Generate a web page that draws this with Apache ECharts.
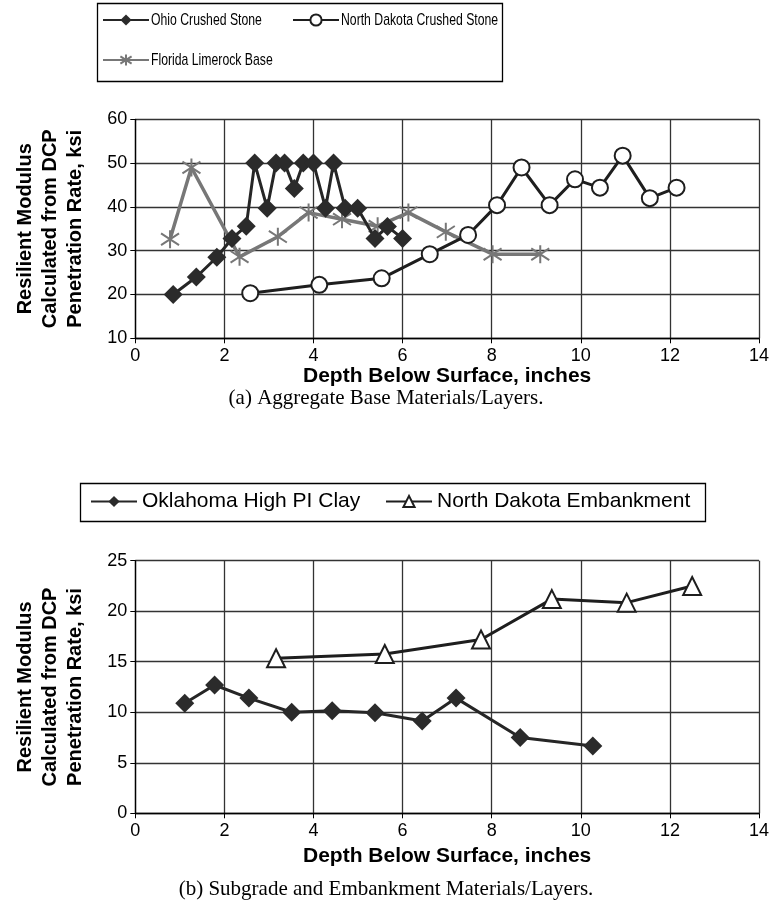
<!DOCTYPE html>
<html><head><meta charset="utf-8">
<script src="https://cdn.jsdelivr.net/npm/echarts@6/dist/echarts.min.js"></script>
<style>html,body{margin:0;padding:0;background:#fff}#c{width:772px;height:916px}</style>
</head><body><div id="c"></div>
<script>
// ---- data (a) Aggregate base ----
const ohioDepth   = [0.85,1.37,1.83,2.17,2.49,2.68,2.96,3.16,3.35,3.57,3.77,4.0,4.27,4.45,4.71,4.99,5.38,5.66,6.0];
const ohioMr      = [20,24,28.5,32.8,35.6,50,39.7,50,50,44.2,50,50,39.7,50,39.7,39.7,32.8,35.5,32.8];
const ndcsDepth   = [2.58,4.13,5.53,6.61,7.47,8.12,8.67,9.3,9.87,10.43,10.94,11.55,12.15];
const ndcsMr      = [20.3,22.2,23.7,29.2,33.6,40.4,49,40.4,46.3,44.4,51.7,42,44.4];
const flDepth     = [0.78,1.26,2.34,3.2,3.89,4.64,5.44,6.13,6.97,8.02,9.09];
const flMr        = [32.6,49,28.6,33.2,38.7,37.2,35.6,38.7,34.3,29.2,29.2];
// ---- data (b) Subgrade / embankment ----
const okDepth     = [1.11,1.78,2.55,3.51,4.42,5.38,6.44,7.2,8.64,10.27];
const okMr        = [10.9,12.7,11.4,10.0,10.16,9.96,9.14,11.4,7.5,6.66];
const ndeDepth    = [3.16,5.6,7.76,9.35,11.03,12.5];
const ndeMr       = [15.35,15.77,17.2,21.2,20.85,22.5];
// ---- axes ----
const xTickValues = [0,2,4,6,8,10,12,14];
const yTicksA = [10,20,30,40,50,60];
const yTicksB = [0,5,10,15,20,25];

const names = {
  ohio:'Ohio Crushed Stone', ndcs:'North Dakota Crushed Stone', fl:'Florida Limerock Base',
  ok:'Oklahoma High PI Clay', nde:'North Dakota Embankment'
};
const yTitle = 'Resilient Modulus\nCalculated from DCP\nPenetration Rate, ksi';
const xTitle = 'Depth Below Surface, inches';
const captionA = '(a) Aggregate Base Materials/Layers.';
const captionB = '(b) Subgrade and Embankment Materials/Layers.';

const zip = (a,b) => a.map((v,i)=>[v,b[i]]);
const SANS = 'Liberation Sans, Arial, sans-serif';
const SERIF = 'Liberation Serif, Times New Roman, serif';
const asterisk = 'path://M10,0L10,20M2.5,3.5L17.5,16.5M2.5,16.5L17.5,3.5';

function xAxis(gi, gap){
  return {type:'value', gridIndex:gi, min:xTickValues[0], max:xTickValues[xTickValues.length-1], interval:2,
    name:xTitle, nameLocation:'middle', nameGap:gap,
    nameTextStyle:{fontFamily:SANS, fontSize:21, fontWeight:'bold', color:'#000'},
    axisLine:{show:true, onZero:false, lineStyle:{color:'#000', width:1.3}},
    axisTick:{show:true, length:5, lineStyle:{color:'#000'}},
    axisLabel:{fontFamily:SANS, fontSize:18, color:'#000', margin:9},
    splitLine:{show:true, lineStyle:{color:'#333', width:1.3}}};
}
function yAxis(gi, ticks){
  return {type:'value', gridIndex:gi, min:ticks[0], max:ticks[ticks.length-1], interval:ticks[1]-ticks[0],
    name:yTitle, nameLocation:'middle', nameGap:47, nameRotate:90,
    nameTextStyle:{fontFamily:SANS, fontSize:20, fontWeight:'bold', color:'#000', lineHeight:25, align:'center'},
    axisLine:{show:true, lineStyle:{color:'#000', width:1.3}},
    axisTick:{show:true, length:5, lineStyle:{color:'#000'}},
    axisLabel:{fontFamily:SANS, fontSize:18, color:'#000', margin:8},
    splitLine:{show:true, lineStyle:{color:'#333', width:1.3}}};
}
const legText = (fs)=>({fontFamily:SANS, fontSize:fs, color:'#000'});
function leg(name, left, top, fs, iconOnly){
  const l = {data:[name], left:left, top:top, padding:0, itemWidth:46, itemHeight:14, itemGap:0,
    textStyle:legText(fs), selectedMode:false};
  if (iconOnly) l.formatter = () => '';
  return l;
}
// condensed legend labels of panel (a)
function condText(str, x, y){
  return {type:'text', x:x, y:y, scaleX:0.72, silent:true,
    style:{text:str, fontFamily:'Liberation Sans', fontSize:17, fill:'#000', verticalAlign:'middle', align:'left'}};
}

const chart = echarts.init(document.getElementById('c'), null, {renderer:'canvas'});
chart.setOption({
  animation:false,
  backgroundColor:'#fff',
  grid:[
    {left:135.3, width:625.8, top:119.3, height:219},
    {left:135.3, width:625.8, top:560.7, height:252.6}
  ],
  xAxis:[xAxis(0, 26), xAxis(1, 32)],
  yAxis:[yAxis(0,yTicksA), yAxis(1,yTicksB)],
  legend:[
    leg(names.ohio, 102, 13, 16, true),
    leg(names.ndcs, 292, 13, 16, true),
    leg(names.fl, 102, 53, 16, true),
    leg(names.ok, 90, 491, 21, false),
    leg(names.nde, 385, 491, 21, false)
  ],
  title:[
    {text:captionA, left:'center', top:383, textStyle:{fontFamily:SERIF, fontSize:21, fontWeight:'normal', color:'#000'}},
    {text:captionB, left:'center', top:874, textStyle:{fontFamily:SERIF, fontSize:21, fontWeight:'normal', color:'#000'}}
  ],
  graphic:[
    {type:'rect', shape:{x:97.5, y:3.5, width:405, height:78}, style:{fill:'none', stroke:'#000', lineWidth:1.3}, silent:true},
    {type:'rect', shape:{x:80.5, y:483.5, width:625, height:38}, style:{fill:'none', stroke:'#000', lineWidth:1.3}, silent:true},
    condText(names.ohio, 151, 20),
    condText(names.ndcs, 341, 20),
    condText(names.fl, 151, 60)
  ],
  series:[
    {name:names.fl, type:'line', xAxisIndex:0, yAxisIndex:0, data:zip(flDepth,flMr), z:2,
      symbol:asterisk, symbolSize:18, lineStyle:{color:'#777', width:3.5},
      itemStyle:{color:'#777', borderColor:'#777', borderWidth:2}},
    {name:names.ndcs, type:'line', xAxisIndex:0, yAxisIndex:0, data:zip(ndcsDepth,ndcsMr), z:3,
      symbol:'circle', symbolSize:16, lineStyle:{color:'#1e1e1e', width:3},
      itemStyle:{color:'#fff', borderColor:'#1e1e1e', borderWidth:2}},
    {name:names.ohio, type:'line', xAxisIndex:0, yAxisIndex:0, data:zip(ohioDepth,ohioMr), z:4,
      symbol:'diamond', symbolSize:19, lineStyle:{color:'#262626', width:3},
      itemStyle:{color:'#2b2b2b', borderColor:'#2b2b2b', borderWidth:0}},
    {name:names.ok, type:'line', xAxisIndex:1, yAxisIndex:1, data:zip(okDepth,okMr), z:3,
      symbol:'diamond', symbolSize:19, lineStyle:{color:'#262626', width:3},
      itemStyle:{color:'#2b2b2b', borderWidth:0}},
    {name:names.nde, type:'line', xAxisIndex:1, yAxisIndex:1, data:zip(ndeDepth,ndeMr), z:3,
      symbol:'triangle', symbolSize:18, lineStyle:{color:'#1e1e1e', width:3},
      itemStyle:{color:'#fff', borderColor:'#1e1e1e', borderWidth:2}}
  ]
});
</script></body></html>
